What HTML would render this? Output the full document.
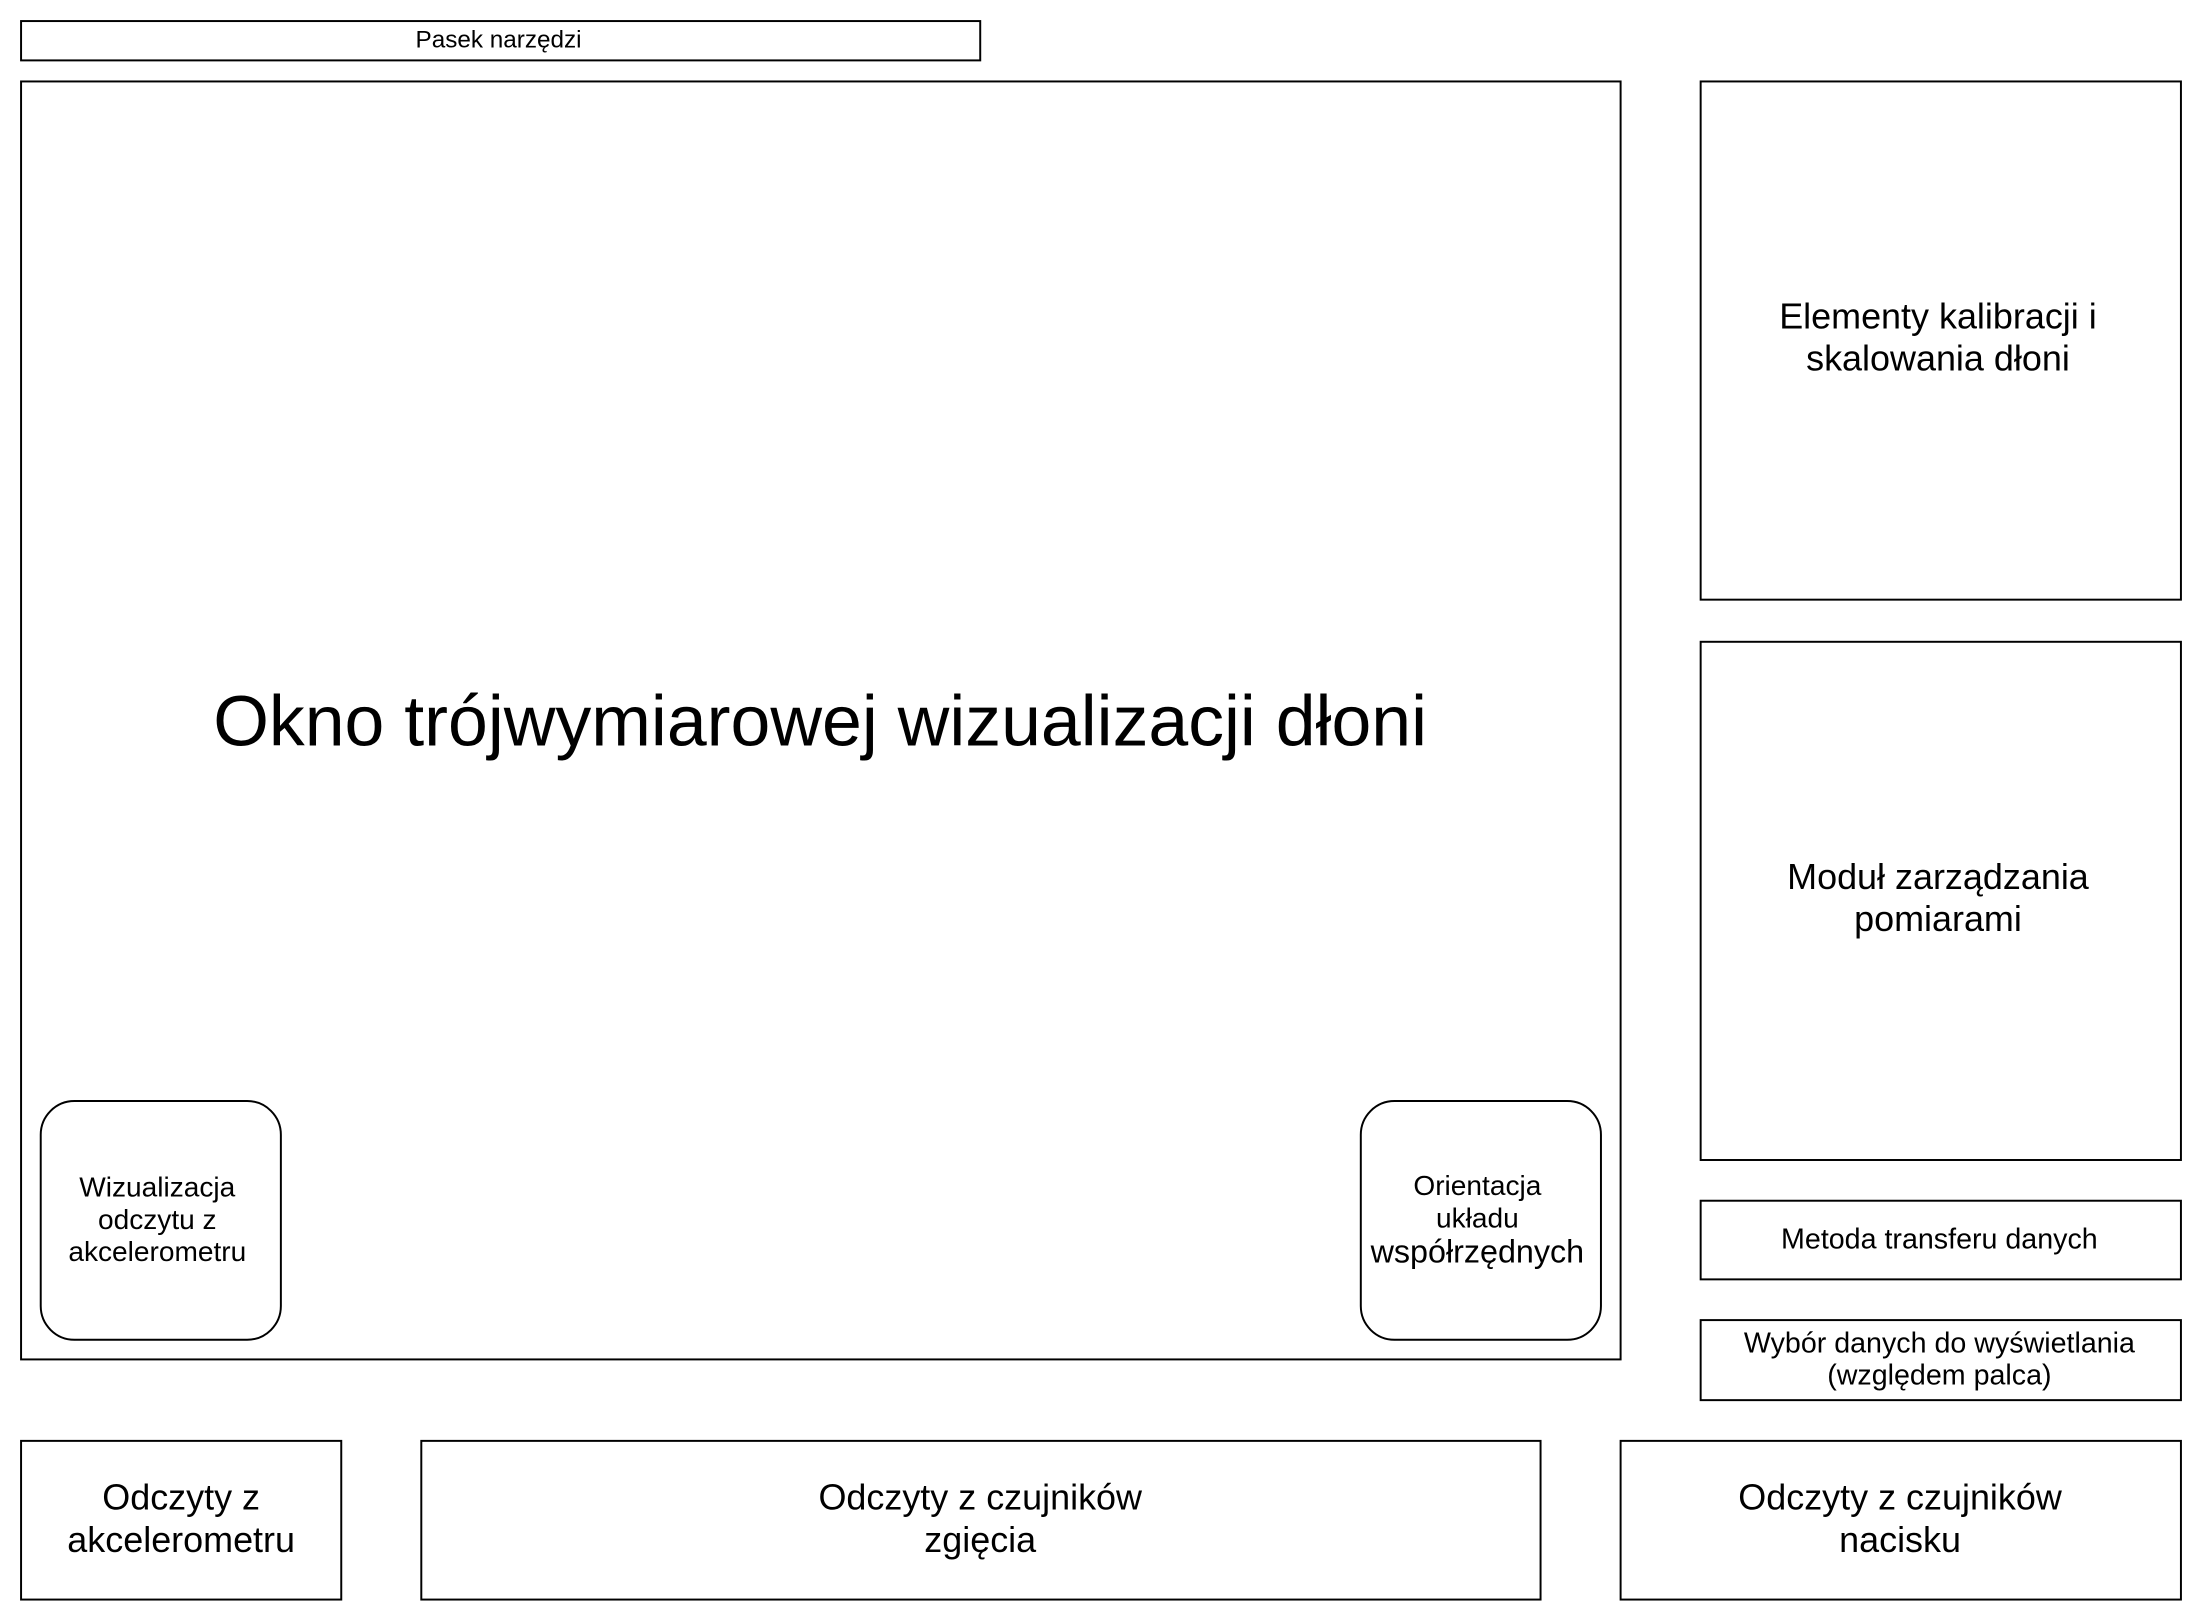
<!DOCTYPE html>
<html><head><meta charset="utf-8"><style>
html,body{margin:0;padding:0;background:#fff;}
svg{display:block;}
text{font-family:"Liberation Sans",Arial,sans-serif;fill:#000;}
</style></head><body>
<svg width="2202" height="1624" viewBox="0 0 1568 1156.4" preserveAspectRatio="none" xmlns="http://www.w3.org/2000/svg">
<g fill="none" stroke="#000" stroke-width="1.4">
<rect x="15" y="15" width="683" height="28"/>
<rect x="15" y="58" width="1139" height="910"/>
<rect x="29" y="784" width="171" height="170" rx="24"/>
<rect x="969" y="784" width="171" height="170" rx="24"/>
<rect x="1211" y="58" width="342" height="369"/>
<rect x="1211" y="457" width="342" height="369"/>
<rect x="1211" y="855" width="342" height="56"/>
<rect x="1211" y="940" width="342" height="57"/>
<rect x="15" y="1026" width="228" height="113"/>
<rect x="300" y="1026" width="797" height="113"/>
<rect x="1154" y="1026" width="399" height="113"/>
</g>
<g text-anchor="middle">
<text x="355" y="34" font-size="17.3">Pasek narzędzi</text>
<text x="584" y="531" font-size="51">Okno trójwymiarowej wizualizacji dłoni</text>
<text x="112" y="852" font-size="20">Wizualizacja</text>
<text x="112" y="875" font-size="20">odczytu z</text>
<text x="112" y="898" font-size="20">akcelerometru</text>
<text x="1052" y="851" font-size="20">Orientacja</text>
<text x="1052" y="874" font-size="20">układu</text>
<text x="1052" y="899" font-size="23">współrzędnych</text>
<text x="1380" y="234" font-size="25.6">Elementy kalibracji i</text>
<text x="1380" y="264" font-size="25.6">skalowania dłoni</text>
<text x="1380" y="633" font-size="25.6">Moduł zarządzania</text>
<text x="1380" y="663" font-size="25.6">pomiarami</text>
<text x="1381" y="889" font-size="20.4">Metoda transferu danych</text>
<text x="1381" y="963" font-size="20.4">Wybór danych do wyświetlania</text>
<text x="1381" y="986" font-size="20.4">(względem palca)</text>
<text x="129" y="1075" font-size="25.6">Odczyty z</text>
<text x="129" y="1105" font-size="25.6">akcelerometru</text>
<text x="698" y="1075" font-size="25.6">Odczyty z czujników</text>
<text x="698" y="1105" font-size="25.6">zgięcia</text>
<text x="1353" y="1075" font-size="25.6">Odczyty z czujników</text>
<text x="1353" y="1105" font-size="25.6">nacisku</text>
</g>
</svg>
</body></html>
